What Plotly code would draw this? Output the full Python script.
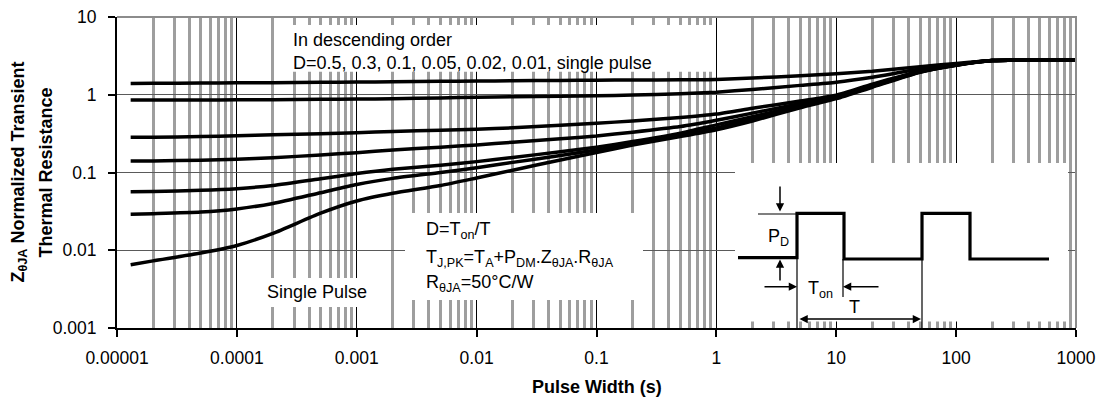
import plotly.graph_objects as go

# ---------------- data ----------------
pulse_width = [1.3e-5, 2e-5, 5e-5, 1e-4, 2e-4, 5e-4, 1e-3, 2e-3, 5e-3, 1e-2,
               2e-2, 5e-2, 0.1, 0.2, 0.5, 1, 2, 5, 10, 20, 50, 100, 200, 500, 1000]

z_d050 = [1.40, 1.405, 1.415, 1.425, 1.43, 1.445, 1.455, 1.47, 1.49, 1.50,
          1.515, 1.53, 1.54, 1.55, 1.555, 1.57, 1.64, 1.75, 1.86, 2.00,
          2.30, 2.52, 2.75, 2.82, 2.82]
z_d030 = [0.853, 0.854, 0.857, 0.86, 0.865, 0.873, 0.88, 0.89, 0.91, 0.93,
          0.945, 0.96, 0.97, 0.99, 1.03, 1.08, 1.17, 1.32, 1.45, 1.68,
          2.15, 2.45, 2.75, 2.82, 2.82]
z_d010 = [0.283, 0.284, 0.29, 0.297, 0.305, 0.316, 0.325, 0.337, 0.35, 0.36,
          0.375, 0.405, 0.43, 0.46, 0.51, 0.565, 0.67, 0.83, 0.99, 1.37,
          2.01, 2.43, 2.75, 2.82, 2.82]
z_d005 = [0.141, 0.141, 0.144, 0.148, 0.155, 0.168, 0.18, 0.195, 0.212, 0.226,
          0.245, 0.272, 0.295, 0.33, 0.39, 0.47, 0.58, 0.77, 0.96, 1.33,
          1.99, 2.42, 2.75, 2.82, 2.82]
z_d002 = [0.0567, 0.057, 0.059, 0.062, 0.068, 0.083, 0.097, 0.11, 0.124, 0.138,
          0.156, 0.185, 0.212, 0.25, 0.32, 0.41, 0.52, 0.73, 0.93, 1.30,
          1.97, 2.41, 2.75, 2.82, 2.82]
z_d001 = [0.029, 0.0295, 0.031, 0.034, 0.040, 0.055, 0.070, 0.084, 0.10, 0.115,
          0.135, 0.165, 0.195, 0.235, 0.30, 0.375, 0.49, 0.71, 0.91, 1.28,
          1.96, 2.40, 2.75, 2.82, 2.82]
z_single = [0.0065, 0.0073, 0.0092, 0.0115, 0.0165, 0.030, 0.043, 0.054, 0.068, 0.085,
            0.107, 0.145, 0.18, 0.225, 0.29, 0.355, 0.46, 0.68, 0.89, 1.25,
            1.95, 2.40, 2.75, 2.82, 2.82]

series_names = ["D=0.5", "D=0.3", "D=0.1", "D=0.05", "D=0.02", "D=0.01", "Single Pulse"]
series_values = [z_d050, z_d030, z_d010, z_d005, z_d002, z_d001, z_single]

x_tick_vals = [1e-5, 1e-4, 1e-3, 1e-2, 1e-1, 1, 10, 100, 1000]
x_tick_text = ["0.00001", "0.0001", "0.001", "0.01", "0.1", "1", "10", "100", "1000"]
y_tick_vals = [0.001, 0.01, 0.1, 1, 10]
y_tick_text = ["0.001", "0.01", "0.1", "1", "10"]

# ---------------- layout helpers (pixel -> paper) ----------------
W, H = 1098, 400
ML, MR, MT, MB = 117, 22, 17, 72
X0, X1 = ML, W - MR
Y0, Y1 = MT, H - MB


def px(x):
    return (x - X0) / (X1 - X0)


def py(y):
    return (Y1 - y) / (Y1 - Y0)


FONT = "Liberation Sans, Arial, sans-serif"

fig = go.Figure()
for name, vals in zip(series_names, series_values):
    fig.add_trace(go.Scatter(
        x=pulse_width, y=vals, mode="lines", name=name,
        line=dict(color="black", width=3.5, shape="spline", smoothing=0.6),
        showlegend=False, hoverinfo="x+y+name"))

minor_vals = [m * 10.0 ** e for e in range(-5, 3) for m in range(2, 10)]

shapes = []


def white_box(xa, ya, xb, yb):
    shapes.append(dict(type="rect", xref="paper", yref="paper",
                       x0=px(xa), x1=px(xb), y0=py(yb), y1=py(ya),
                       fillcolor="white", line=dict(width=0), layer="above"))


white_box(284, 25, 713, 71.7)      # "In descending order" box
white_box(405, 213, 643, 300)      # formula box
white_box(263, 278, 370, 307)      # "Single Pulse" box
white_box(735, 163, 1068, 321.5)   # inset diagram box

# gray top/right frame
shapes.append(dict(type="path", xref="paper", yref="paper",
                   path="M 0 1 L 1 1 L 1 0", line=dict(color="#8c8c8c", width=2),
                   layer="above"))


def seg(xa, ya, xb, yb, w=1.2):
    shapes.append(dict(type="line", xref="paper", yref="paper",
                       x0=px(xa), y0=py(ya), x1=px(xb), y1=py(yb),
                       line=dict(color="black", width=w), layer="above"))


# pulse train (thick)
pts = [(738, 257.7), (797, 257.7), (797, 213.3), (844, 213.3), (844, 259),
       (922, 259), (922, 213.3), (970, 213.3), (970, 259), (1049, 259)]
path = "M " + " L ".join(f"{px(a):.5f} {py(b):.5f}" for a, b in pts)
shapes.append(dict(type="path", xref="paper", yref="paper", path=path,
                   line=dict(color="black", width=3.2), layer="above"))
# thin reference lines
seg(758, 214, 797, 214)
seg(797, 258, 797, 330)
seg(843, 259, 843, 297)
seg(922, 259, 922, 330)

annotations = []


def arrow(hx, hy, tx, ty, both=False):
    annotations.append(dict(xref="paper", yref="paper", x=px(hx), y=py(hy),
                            ax=tx - hx, ay=ty - hy, axref="pixel", ayref="pixel",
                            text="", showarrow=True, arrowhead=2, arrowsize=1.1,
                            arrowwidth=1.5, arrowcolor="black", standoff=0,
                            startstandoff=0, startarrowhead=2, startarrowsize=1.1,
                            arrowside="end+start" if both else "end"))


arrow(780, 211.5, 780, 185)
arrow(780, 259.5, 780, 282)
arrow(797, 286.7, 763, 286.7)
arrow(843, 286.7, 880, 286.7)
arrow(921, 319, 798, 319, both=True)


def text(x, y, s, anchor="left", size=18, bold=False, angle=0):
    annotations.append(dict(xref="paper", yref="paper", x=px(x), y=py(y),
                            text=f"<b>{s}</b>" if bold else s, showarrow=False,
                            xanchor=anchor, yanchor="middle", textangle=angle,
                            font=dict(family=FONT, size=size, color="black")))


text(291, 40, "In descending order")
text(291, 63, "D=0.5, 0.3, 0.1, 0.05, 0.02, 0.01, single pulse")
text(424, 230, "D=T<sub>on</sub>/T")
text(424, 258, "T<sub>J,PK</sub>=T<sub>A</sub>+P<sub>DM</sub>.Z<sub>θJA</sub>.R<sub>θJA</sub>")
text(424, 283, "R<sub>θJA</sub>=50°C/W")
text(317, 291.5, "Single Pulse", anchor="center")
text(766, 237, "P<sub>D</sub>")
text(806, 289, "T<sub>on</sub>")
text(854, 307, "T", anchor="center")
text(597, 386.5, "Pulse Width (s)", anchor="center", bold=True)
text(19, 172.5, "Z<sub>θJA</sub> Normalized Transient", anchor="center", bold=True, angle=-90)
text(45, 172.5, "Thermal Resistance", anchor="center", bold=True, angle=-90)

fig.update_layout(
    width=W, height=H,
    margin=dict(l=ML, r=MR, t=MT, b=MB, autoexpand=False),
    paper_bgcolor="white", plot_bgcolor="white",
    font=dict(family=FONT, size=17, color="black"),
    shapes=shapes, annotations=annotations,
    xaxis=dict(type="log", range=[-5, 3], tickvals=x_tick_vals, ticktext=x_tick_text,
               showgrid=True, gridcolor="black", gridwidth=1.2,
               minor=dict(tickvals=minor_vals, showgrid=True, gridcolor="#9e9e9e",
                          gridwidth=2.6, ticks=""),
               showline=True, linecolor="black", linewidth=2, automargin=False,
               ticks="outside", ticklen=7, tickwidth=2, tickcolor="black",
               ticklabelstandoff=6, zeroline=False,
               tickfont=dict(family=FONT, size=17.5, color="black")),
    yaxis=dict(type="log", range=[-3, 1], tickvals=y_tick_vals, ticktext=y_tick_text,
               showgrid=True, gridcolor="#5a5a5a", gridwidth=1.2,
               showline=True, linecolor="black", linewidth=2, automargin=False,
               ticks="outside", ticklen=7, tickwidth=2, tickcolor="black",
               ticklabelstandoff=8, zeroline=False,
               tickfont=dict(family=FONT, size=17.5, color="black")),
)

fig.write_html("out.html", config={"displayModeBar": False},
               post_script="document.body.style.margin='0';"
                           "document.body.style.overflow='hidden';")
